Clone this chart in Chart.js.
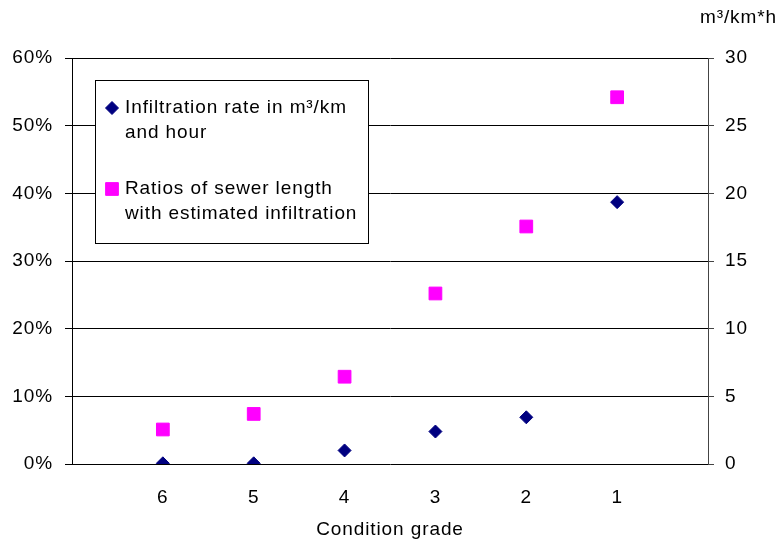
<!DOCTYPE html>
<html>
<head>
<meta charset="utf-8">
<script src="https://cdn.jsdelivr.net/npm/chart.js@4.4.0/dist/chart.umd.min.js"></script>
<style>
    html, body { margin: 0; padding: 0; background: #fff; }
    #wrap { width: 780px; height: 544px; position: relative; }
</style>
</head>
<body>
<div id="wrap"><canvas id="chart"></canvas></div>
<script>
// condition grades, shown left to right
const grades = ['6', '5', '4', '3', '2', '1'];
// infiltration rate (m³/km*h), right axis
const infiltrationRate = [0.05, 0.05, 1.0, 2.4, 3.45, 19.35];
// ratio of sewer length with estimated infiltration (%), left axis
const lengthRatio = [5.1, 7.4, 12.9, 25.2, 35.1, 54.2];

const leftTicks = [0, 10, 20, 30, 40, 50, 60];
const rightTicks = [0, 5, 10, 15, 20, 25, 30];

const legendLines = [
    ['Infiltration rate in m³/km', 'and hour'],
    ['Ratios of sewer length', 'with estimated infiltration']
];
const rightTitle = 'm³/km*h';
const xTitle = 'Condition grade';

const FONT = '"Liberation Sans", Arial, sans-serif';
Chart.defaults.font.family = FONT;
Chart.defaults.font.size = 19;
Chart.defaults.color = '#000';

// x positions 1..6 on a 0..7 scale, like the original category spacing
const pts = (vals) => vals.map((v, i) => ({ x: i + 1, y: v }));

// the original lettering runs a little wide
const wideText = {
    id: 'wideText',
    beforeDraw(chart) { chart.ctx.letterSpacing = '0.9px'; }
};

const boxLegend = {
    id: 'boxLegend',
    afterDraw(chart) {
        const ctx = chart.ctx;
        ctx.save();
        ctx.fillStyle = '#fff';
        ctx.fillRect(95, 80, 273, 163);
        ctx.strokeStyle = '#000';
        ctx.lineWidth = 1;
        ctx.strokeRect(95.5, 80.5, 273, 163);
        ctx.font = '19px ' + FONT;
        ctx.textBaseline = 'middle';
        const rows = [108, 189];
        chart.data.datasets.forEach((ds, i) => {
            const y = rows[i];
            ctx.fillStyle = ds.backgroundColor;
            ctx.strokeStyle = ds.borderColor;
            ctx.lineWidth = ds.borderWidth;
            Chart.helpers.drawPoint(ctx, {
                pointStyle: ds.pointStyle,
                radius: ds.pointRadius,
                borderWidth: ds.borderWidth
            }, 112, y);
            ctx.fillStyle = '#000';
            ctx.textAlign = 'left';
            legendLines[i].forEach((t, k) => ctx.fillText(t, 125, y + k * 25));
        });
        // unit title over the right axis
        ctx.textAlign = 'right';
        ctx.fillText(rightTitle, 777, 18);
        ctx.restore();
    }
};

new Chart(document.getElementById('chart'), {
    type: 'scatter',
    data: {
        datasets: [{
            label: 'Infiltration rate in m³/km and hour',
            data: pts(infiltrationRate),
            yAxisID: 'yRight',
            pointStyle: 'rectRot',
            pointRadius: 6.5,
            borderWidth: 1,
            backgroundColor: '#000080',
            borderColor: '#000080',
            order: 1
        }, {
            label: 'Ratios of sewer length with estimated infiltration',
            data: pts(lengthRatio),
            yAxisID: 'yLeft',
            pointStyle: 'rect',
            pointRadius: 9,
            borderWidth: 1,
            backgroundColor: '#ff00ff',
            borderColor: '#ff00ff',
            order: 2
        }]
    },
    options: {
        responsive: true,
        maintainAspectRatio: false,
        animation: false,
        layout: { padding: { top: 58, left: 0, right: 0, bottom: 0 } },
        plugins: {
            legend: { display: false },
            tooltip: { enabled: false }
        },
        scales: {
            x: {
                type: 'linear',
                min: 0,
                max: 7,
                afterBuildTicks: (s) => { s.ticks = grades.map((g, i) => ({ value: i + 1 })); },
                ticks: {
                    callback: (v) => grades[v - 1] || '',
                    padding: 22,
                    maxRotation: 0
                },
                grid: { display: false, drawTicks: false },
                border: { display: false },
                title: { display: true, text: xTitle, padding: { top: 0, bottom: 3 } },
                afterFit: (s) => { s.height = 80; }
            },
            yLeft: {
                position: 'left',
                min: 0,
                max: 60,
                afterBuildTicks: (s) => { s.ticks = leftTicks.map(v => ({ value: v })); },
                ticks: { callback: (v) => v + '%', padding: 12 },
                grid: { color: '#000', lineWidth: 1, tickLength: 7 },
                border: { color: '#000', width: 1 },
                afterFit: (s) => { s.width = 72; }
            },
            yRight: {
                position: 'right',
                min: 0,
                max: 30,
                afterBuildTicks: (s) => { s.ticks = rightTicks.map(v => ({ value: v })); },
                ticks: { padding: 11 },
                grid: { drawOnChartArea: false, color: '#444', tickLength: 6 },
                border: { color: '#444', width: 1 },
                afterFit: (s) => { s.width = 72; }
            }
        }
    },
    plugins: [wideText, boxLegend]
});
</script>
</body>
</html>
